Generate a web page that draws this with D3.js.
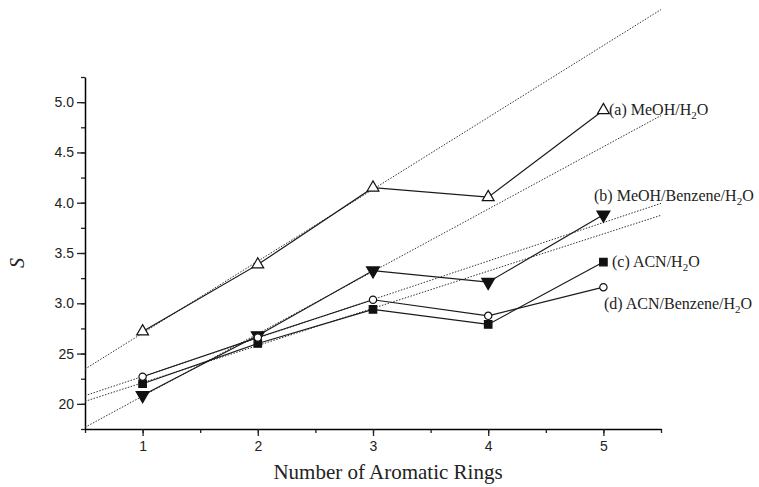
<!DOCTYPE html>
<html>
<head>
<meta charset="utf-8">
<script src="https://cdn.jsdelivr.net/npm/d3@7"></script>
<style>
  body { margin: 0; background: #fff; }
  svg { display: block; }
</style>
</head>
<body>
<script>
const width = 759, height = 487;
const margin = ({top: 77, right: 98, bottom: 58, left: 85});

// number of aromatic rings
const rings = [1, 2, 3, 4, 5];
// S values
const meohWater = [27.2, 33.85, 41.5, 40.55, 49.2];
const meohBenzene = [20.85, 26.8, 33.25, 32.1, 38.8];
const acnWater = [22.0, 26.0, 29.4, 27.9, 34.1];
const acnBenzene = [22.7, 26.6, 30.35, 28.75, 31.6];

const yTicks = [20, 25, 30, 35, 40, 45, 50];
const yTickLabels = ["20", "25", "3.0", "3.5", "4.0", "4.5", "5.0"];
const xTicks = [1, 2, 3, 4, 5];

const series = [
  {name: "a", values: meohWater, symbol: d3.symbolTriangle, fill: "#fff", size: 60, label: ["(a) MeOH/H", "2", "O"]},
  {name: "b", values: meohBenzene, symbol: d3.symbolTriangle, fill: "#111", size: 72, flip: true, label: ["(b) MeOH/Benzene/H", "2", "O"]},
  {name: "c", values: acnWater, symbol: d3.symbolSquare, fill: "#111", size: 56, label: ["(c) ACN/H", "2", "O"]},
  {name: "d", values: acnBenzene, symbol: d3.symbolCircle, fill: "#fff", size: 42, label: ["(d) ACN/Benzene/H", "2", "O"]}
];

const svg = d3.select("body").append("svg")
  .attr("width", width)
  .attr("height", height);

const x = d3.scaleLinear()
  .domain([0.5, 5.5])
  .range([margin.left, width - margin.right]);

const y = d3.scaleLinear()
  .domain([17.5, 52.5])
  .range([height - margin.bottom, margin.top]);

// axes
svg.append("g")
  .attr("transform", `translate(0,${y(17.5)})`)
  .call(d3.axisBottom(x).tickValues(d3.range(0.5, 5.51, 0.5)).tickSize(4).tickFormat(""))
  .call(g => g.select(".domain").remove());
svg.append("g")
  .attr("transform", `translate(0,${y(17.5)})`)
  .call(d3.axisBottom(x).tickValues(xTicks).tickSize(7).tickSizeOuter(0).tickPadding(5).tickFormat(d3.format("d")))
  .call(g => g.select(".domain").attr("stroke-width", 1.5))
  .call(g => g.selectAll("text").attr("font-family", "Liberation Sans, Arial, sans-serif").attr("font-size", 14).attr("fill", "#222"));

svg.append("g")
  .attr("transform", `translate(${x(0.5)},0)`)
  .call(d3.axisLeft(y).tickValues(d3.range(17.5, 52.51, 2.5)).tickSize(4).tickFormat(""))
  .call(g => g.select(".domain").remove());
svg.append("g")
  .attr("transform", `translate(${x(0.5)},0)`)
  .call(d3.axisLeft(y).tickValues(yTicks).tickSize(8).tickSizeOuter(0).tickPadding(3)
    .tickFormat((d, i) => yTickLabels[i]))
  .call(g => g.select(".domain").attr("stroke-width", 1.5))
  .call(g => g.selectAll("text").attr("font-family", "Liberation Sans, Arial, sans-serif").attr("font-size", 14).attr("fill", "#222"));

svg.selectAll(".tick line").attr("stroke", "#222").attr("stroke-width", 1.3);

// least squares through the first three points (1-3 rings)
function fit(vals) {
  const xs = rings.slice(0, 3), ys = vals.slice(0, 3);
  const mx = d3.mean(xs), my = d3.mean(ys);
  const slope = d3.sum(xs, (v, i) => (v - mx) * (ys[i] - my)) / d3.sum(xs, v => (v - mx) * (v - mx));
  return t => my + slope * (t - mx);
}

series.forEach(s => {
  const f = fit(s.values);
  svg.append("line")
    .attr("x1", x(0.5)).attr("y1", y(f(0.5)))
    .attr("x2", x(5.5)).attr("y2", y(f(5.5)))
    .attr("stroke", "#333")
    .attr("stroke-width", 1)
    .attr("stroke-dasharray", "1.5,1.5");
});

const line = d3.line()
  .x((d, i) => x(rings[i]))
  .y(d => y(d));

series.forEach(s => {
  svg.append("path")
    .datum(s.values)
    .attr("fill", "none")
    .attr("stroke", "#1a1a1a")
    .attr("stroke-width", 1.2)
    .attr("d", line);
});

series.forEach(s => {
  svg.append("g").selectAll("path")
    .data(s.values)
    .join("path")
    .attr("transform", (d, i) => `translate(${x(rings[i])},${y(d)})` + (s.flip ? " rotate(180)" : ""))
    .attr("d", d3.symbol(s.symbol, s.size))
    .attr("fill", s.fill)
    .attr("stroke", "#111")
    .attr("stroke-width", 1.2);
});

// series labels
const labelPos = {
  a: [609, 115],
  b: [594, 201],
  c: [612, 267],
  d: [604, 309]
};
series.forEach(s => {
  const t = svg.append("text")
    .attr("x", labelPos[s.name][0])
    .attr("y", labelPos[s.name][1])
    .attr("font-family", "Liberation Serif, Times New Roman, serif")
    .attr("font-size", 16)
    .attr("fill", "#222");
  t.append("tspan").text(s.label[0]);
  t.append("tspan").attr("font-size", 11).attr("dy", 4).text(s.label[1]);
  t.append("tspan").attr("dy", -4).text(s.label[2]);
});

// axis titles
svg.append("text")
  .attr("x", 388)
  .attr("y", 479)
  .attr("text-anchor", "middle")
  .attr("font-family", "Liberation Serif, Times New Roman, serif")
  .attr("font-size", 21)
  .attr("fill", "#222")
  .text("Number of Aromatic Rings");

svg.append("text")
  .attr("transform", "translate(24,263) rotate(-90)")
  .attr("text-anchor", "middle")
  .attr("font-family", "Liberation Serif, Times New Roman, serif")
  .attr("font-style", "italic")
  .attr("font-size", 20)
  .attr("fill", "#222")
  .text("S");
</script>
</body>
</html>
